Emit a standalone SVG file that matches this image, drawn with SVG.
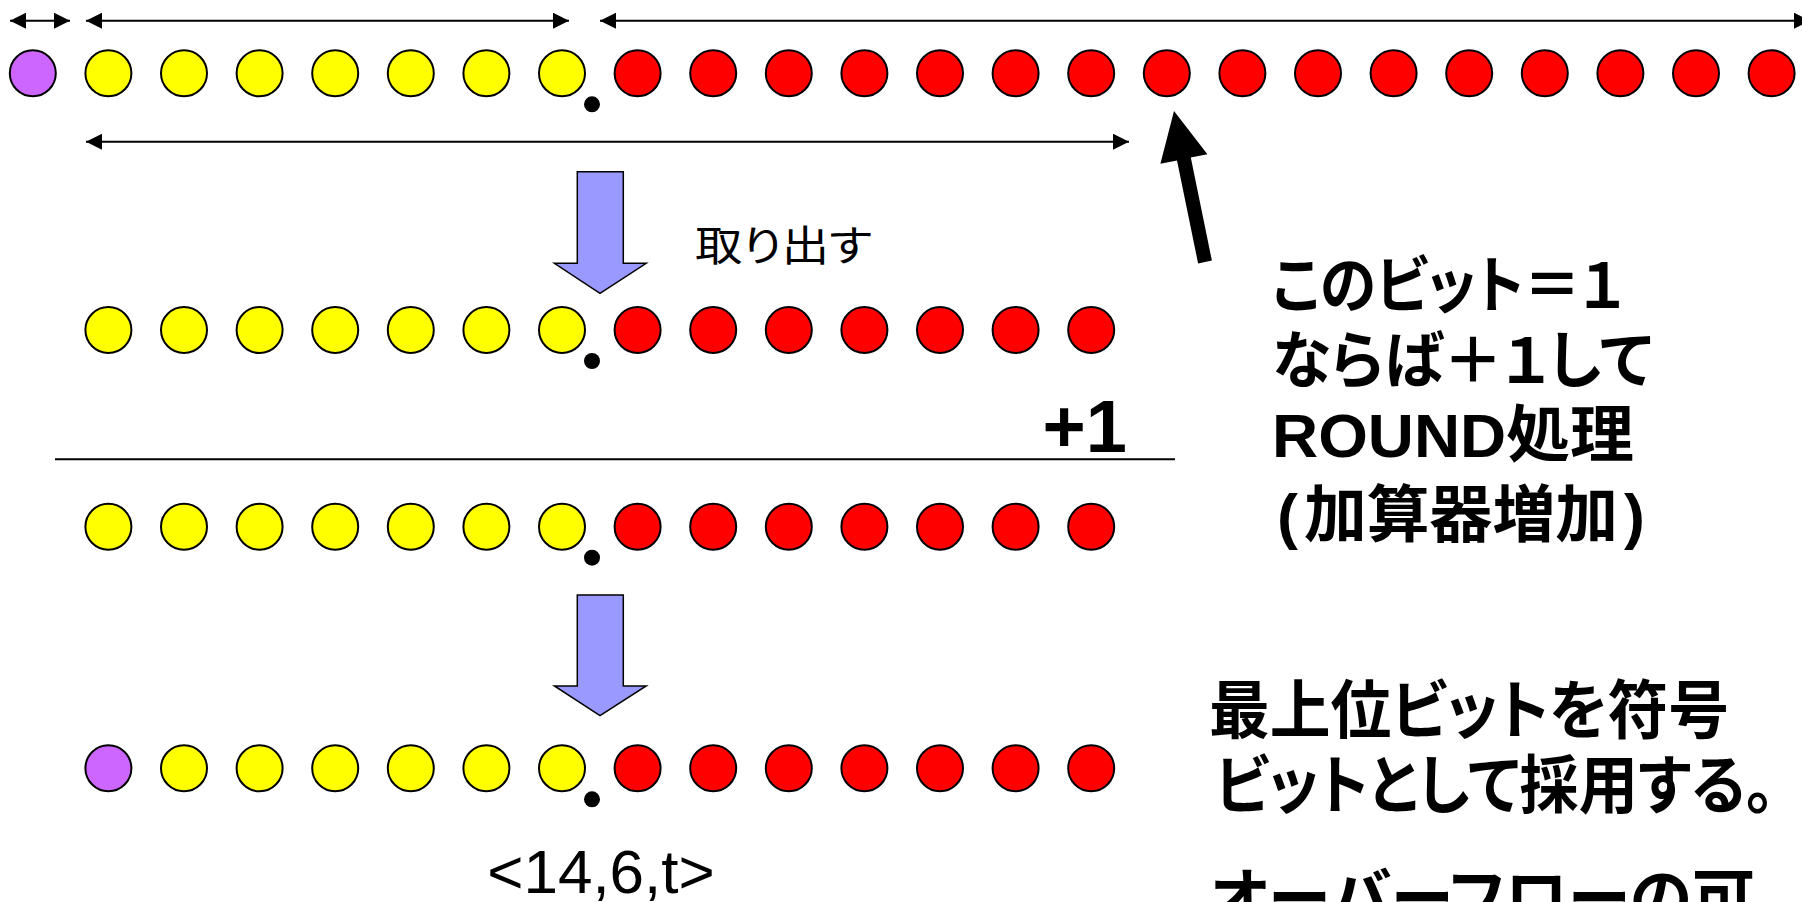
<svg xmlns="http://www.w3.org/2000/svg" width="1802" height="902" viewBox="0 0 1802 902">
<style>
.b{stroke:#000;stroke-width:2}
.p{fill:#CC66FF;stroke:#000;stroke-width:2}
.y{fill:#FFFF00;stroke:#000;stroke-width:2}
.r{fill:#FF0000;stroke:#000;stroke-width:2}
.d{fill:#000}
.ln{stroke:#000;stroke-width:2;fill:none}
.blue{fill:#9999FF;stroke:#000;stroke-width:1.5}
.jp{font-family:"Liberation Sans","Noto Sans CJK JP",sans-serif;font-feature-settings:"palt"}
.bold{font-weight:bold}
</style>
<defs>
<marker id="ah" markerUnits="userSpaceOnUse" markerWidth="16" markerHeight="16" refX="16" refY="8" orient="auto-start-reverse">
<path d="M0,0 L16,8 L0,16 Z" fill="#000"/>
</marker>
</defs>

<g id="row1" transform="translate(0,73.3)">
<circle class="p" cx="32.8" cy="0" r="23"/>
<circle class="y" cx="108.4" cy="0" r="23"/>
<circle class="y" cx="184.0" cy="0" r="23"/>
<circle class="y" cx="259.6" cy="0" r="23"/>
<circle class="y" cx="335.2" cy="0" r="23"/>
<circle class="y" cx="410.8" cy="0" r="23"/>
<circle class="y" cx="486.4" cy="0" r="23"/>
<circle class="y" cx="562.0" cy="0" r="23"/>
<circle class="r" cx="637.6" cy="0" r="23"/>
<circle class="r" cx="713.2" cy="0" r="23"/>
<circle class="r" cx="788.8" cy="0" r="23"/>
<circle class="r" cx="864.4" cy="0" r="23"/>
<circle class="r" cx="940.0" cy="0" r="23"/>
<circle class="r" cx="1015.6" cy="0" r="23"/>
<circle class="r" cx="1091.2" cy="0" r="23"/>
<circle class="r" cx="1166.8" cy="0" r="23"/>
<circle class="r" cx="1242.4" cy="0" r="23"/>
<circle class="r" cx="1318.0" cy="0" r="23"/>
<circle class="r" cx="1393.6" cy="0" r="23"/>
<circle class="r" cx="1469.2" cy="0" r="23"/>
<circle class="r" cx="1544.8" cy="0" r="23"/>
<circle class="r" cx="1620.4" cy="0" r="23"/>
<circle class="r" cx="1696.0" cy="0" r="23"/>
<circle class="r" cx="1771.6" cy="0" r="23"/>
<circle class="d" cx="592" cy="31" r="8"/>
</g>

<g id="row2" transform="translate(0,330)">
<circle class="y" cx="108.4" cy="0" r="23"/>
<circle class="y" cx="184.0" cy="0" r="23"/>
<circle class="y" cx="259.6" cy="0" r="23"/>
<circle class="y" cx="335.2" cy="0" r="23"/>
<circle class="y" cx="410.8" cy="0" r="23"/>
<circle class="y" cx="486.4" cy="0" r="23"/>
<circle class="y" cx="562.0" cy="0" r="23"/>
<circle class="r" cx="637.6" cy="0" r="23"/>
<circle class="r" cx="713.2" cy="0" r="23"/>
<circle class="r" cx="788.8" cy="0" r="23"/>
<circle class="r" cx="864.4" cy="0" r="23"/>
<circle class="r" cx="940.0" cy="0" r="23"/>
<circle class="r" cx="1015.6" cy="0" r="23"/>
<circle class="r" cx="1091.2" cy="0" r="23"/>
<circle class="d" cx="592" cy="31" r="8"/>
</g>

<g id="row3" transform="translate(0,526.7)">
<circle class="y" cx="108.4" cy="0" r="23"/>
<circle class="y" cx="184.0" cy="0" r="23"/>
<circle class="y" cx="259.6" cy="0" r="23"/>
<circle class="y" cx="335.2" cy="0" r="23"/>
<circle class="y" cx="410.8" cy="0" r="23"/>
<circle class="y" cx="486.4" cy="0" r="23"/>
<circle class="y" cx="562.0" cy="0" r="23"/>
<circle class="r" cx="637.6" cy="0" r="23"/>
<circle class="r" cx="713.2" cy="0" r="23"/>
<circle class="r" cx="788.8" cy="0" r="23"/>
<circle class="r" cx="864.4" cy="0" r="23"/>
<circle class="r" cx="940.0" cy="0" r="23"/>
<circle class="r" cx="1015.6" cy="0" r="23"/>
<circle class="r" cx="1091.2" cy="0" r="23"/>
<circle class="d" cx="592" cy="31" r="8"/>
</g>

<g id="row4" transform="translate(0,768.3)">
<circle class="p" cx="108.4" cy="0" r="23"/>
<circle class="y" cx="184.0" cy="0" r="23"/>
<circle class="y" cx="259.6" cy="0" r="23"/>
<circle class="y" cx="335.2" cy="0" r="23"/>
<circle class="y" cx="410.8" cy="0" r="23"/>
<circle class="y" cx="486.4" cy="0" r="23"/>
<circle class="y" cx="562.0" cy="0" r="23"/>
<circle class="r" cx="637.6" cy="0" r="23"/>
<circle class="r" cx="713.2" cy="0" r="23"/>
<circle class="r" cx="788.8" cy="0" r="23"/>
<circle class="r" cx="864.4" cy="0" r="23"/>
<circle class="r" cx="940.0" cy="0" r="23"/>
<circle class="r" cx="1015.6" cy="0" r="23"/>
<circle class="r" cx="1091.2" cy="0" r="23"/>
<circle class="d" cx="592" cy="31" r="8"/>
</g>

<g id="connectors">
<line class="ln" x1="10" y1="20.7" x2="70" y2="20.7" marker-start="url(#ah)" marker-end="url(#ah)"/>
<line class="ln" x1="86" y1="20.7" x2="569" y2="20.7" marker-start="url(#ah)" marker-end="url(#ah)"/>
<line class="ln" x1="600" y1="20.7" x2="1810" y2="20.7" marker-start="url(#ah)" marker-end="url(#ah)"/>
<line class="ln" x1="86" y1="141.7" x2="1129" y2="141.7" marker-start="url(#ah)" marker-end="url(#ah)"/>
<polygon id="pointer" points="1174,111 1207.4,154.2 1190.8,157.6 1211.9,260.6 1198.1,263.4 1177.0,160.4 1160.4,163.8" fill="#000"/>
<path id="down1" class="blue" d="M577.3,171.7 H623.3 V263.3 H646.2 L600,293.3 L554.4,263.3 H577.3 Z"/>
<path id="down2" class="blue" d="M577.3,595 H623.3 V686 H646.2 L600,715.7 L554.4,686 H577.3 Z"/>
<line id="sumline" class="ln" x1="55" y1="459.3" x2="1175" y2="459.3"/>
</g>

<g id="labels">
<text id="extract" class="jp" x="695" y="261" font-size="42" textLength="177" lengthAdjust="spacingAndGlyphs">取り出す</text>
<text id="plus1" x="1042.6" y="451.7" font-family="Liberation Sans, Arial, sans-serif" font-weight="bold" font-size="74">+1</text>
<text id="fmt" x="601" y="893" font-family="Liberation Sans, Arial, sans-serif" font-size="62" text-anchor="middle">&lt;14,6,t&gt;</text>
</g>

<g id="note1" class="jp bold" font-size="62">
<text x="1272" y="308" textLength="352" lengthAdjust="spacingAndGlyphs">このビット＝１</text>
<text x="1272" y="383" textLength="380" lengthAdjust="spacingAndGlyphs">ならば＋１して</text>
<text x="1272" y="457" textLength="362" lengthAdjust="spacingAndGlyphs">ROUND処理</text>
<text x="1277" y="537" textLength="368" lengthAdjust="spacingAndGlyphs">(<tspan dx="6">加算器増加</tspan><tspan dx="6">)</tspan></text>
</g>

<g id="note2" class="jp bold" font-size="64">
<text x="1209" y="733" textLength="520" lengthAdjust="spacingAndGlyphs">最上位ビットを符号</text>
<text x="1215" y="808" textLength="560" lengthAdjust="spacingAndGlyphs">ビットとして採用する。</text>
<text x="1209" y="921" textLength="546" lengthAdjust="spacingAndGlyphs">オーバーフローの可</text>
</g>
</svg>
